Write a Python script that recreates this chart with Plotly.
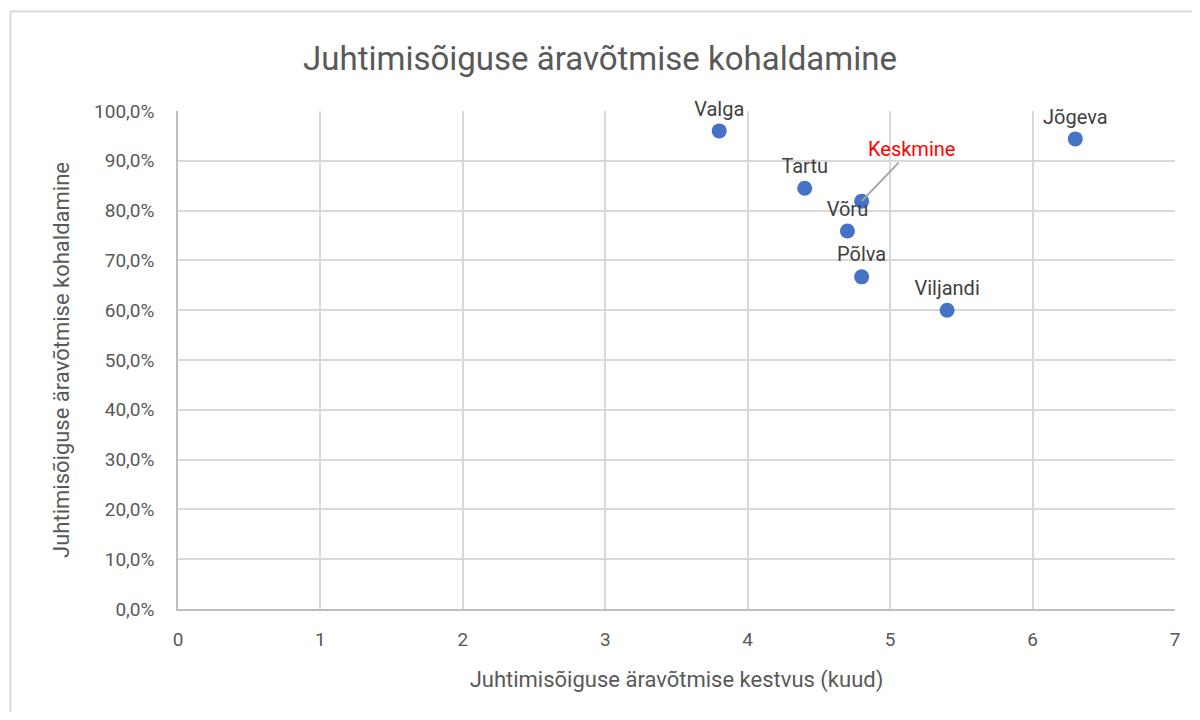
import plotly.graph_objects as go

# Maakonnad: kestvus (kuud) ja kohaldamise osakaal
counties = ["Valga", "Tartu", "Võru", "Põlva", "Viljandi", "Jõgeva"]
duration = [3.8, 4.4, 4.7, 4.8, 5.4, 6.3]
share = [0.960, 0.845, 0.759, 0.667, 0.600, 0.944]

avg_label = "Keskmine"
avg_duration = 4.8
avg_share = 0.819

x_ticks = [0, 1, 2, 3, 4, 5, 6, 7]
y_ticks = [0.0, 0.1, 0.2, 0.3, 0.4, 0.5, 0.6, 0.7, 0.8, 0.9, 1.0]

FONT = "Roboto, Arial"
BLUE = "#4472C4"
GRID = "#D9D9D9"
TEXT = "#595959"

fig = go.Figure()

fig.add_trace(
    go.Scatter(
        x=duration + [avg_duration],
        y=share + [avg_share],
        mode="markers+text",
        text=counties + [""],
        textposition="top center",
        textfont=dict(size=20, color="#404040", family=FONT),
        marker=dict(size=15, color=BLUE),
        cliponaxis=False,
        hoverinfo="skip",
        showlegend=False,
    )
)

fig.add_annotation(
    x=avg_duration,
    y=avg_share,
    text=avg_label,
    showarrow=True,
    arrowhead=0,
    arrowwidth=2,
    arrowcolor="#A6A6A6",
    ax=50,
    ay=-52,
    standoff=0,
    font=dict(size=20, color="#FF0000", family=FONT),
)

# page body has an 8px margin, so the figure is a bit smaller than the window
fig.update_layout(
    width=1184,
    height=704,
    paper_bgcolor="white",
    plot_bgcolor="white",
    separators=", ",
    title=dict(
        text="Juhtimisõiguse äravõtmise kohaldamine",
        x=0.5,
        xanchor="center",
        y=0.929,
        yanchor="middle",
        font=dict(size=33, color=TEXT, family=FONT),
    ),
    margin=dict(l=170, r=15, t=103, b=103),
    xaxis=dict(
        range=[0, 7],
        tickvals=x_ticks,
        showgrid=True,
        gridcolor=GRID,
        gridwidth=1.5,
        zeroline=False,
        showline=True,
        linecolor="#BFBFBF",
        linewidth=1.5,
        ticks="",
        ticklabelstandoff=12,
        tickfont=dict(size=19, color=TEXT, family=FONT),
        title=dict(
            text="Juhtimisõiguse äravõtmise kestvus (kuud)",
            font=dict(size=22, color=TEXT, family=FONT),
            standoff=22,
        ),
    ),
    yaxis=dict(
        range=[0, 1],
        tickvals=y_ticks,
        tickformat=".1%",
        showgrid=True,
        gridcolor=GRID,
        gridwidth=1.5,
        zeroline=False,
        showline=True,
        linecolor="#BFBFBF",
        linewidth=1.5,
        ticks="",
        ticklabelstandoff=18,
        tickfont=dict(size=19, color=TEXT, family=FONT),
        title=dict(
            text="Juhtimisõiguse äravõtmise kohaldamine",
            font=dict(size=22, color=TEXT, family=FONT),
            standoff=18,
        ),
    ),
    shapes=[
        dict(
            type="rect",
            xref="paper",
            yref="paper",
            x0=-0.168,
            x1=1.1,
            y0=-0.3,
            y1=1.2,
            line=dict(color="#D9D9D9", width=2),
            fillcolor="rgba(0,0,0,0)",
        )
    ],
)

fig.write_html("out.html")
